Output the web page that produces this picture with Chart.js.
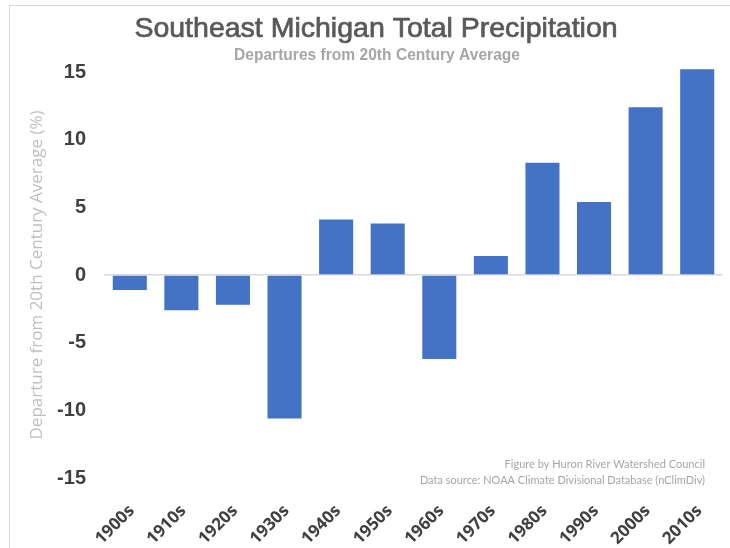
<!DOCTYPE html>
<html>
<head>
<meta charset="utf-8">
<script src="https://cdn.jsdelivr.net/npm/chart.js@4/dist/chart.umd.min.js"></script>
<style>
  html, body { margin: 0; padding: 0; background: #ffffff; }
  #wrap { position: relative; width: 730px; height: 548px; overflow: hidden; }
  #frame { position: absolute; left: 9px; top: 5px; width: 760px; height: 600px; border: 1px solid #d9d9d9; box-sizing: border-box; pointer-events: none; }
  canvas { position: absolute; left: 0; top: 0; }
</style>
</head>
<body>
<div id="wrap">
  <div id="frame"></div>
  <canvas id="c" width="730" height="548"></canvas>
</div>
<script>
const titleText = "Southeast Michigan Total Precipitation";
const subtitleText = "Departures from 20th Century Average";
const yAxisTitle = "Departure from 20th Century Average (%)";
const footnoteLines = ["Figure by Huron River Watershed Council", "Data source: NOAA Climate Divisional Database (nClimDiv)"];
const decades = ["1900s", "1910s", "1920s", "1930s", "1940s", "1950s", "1960s", "1970s", "1980s", "1990s", "2000s", "2010s"];
const departures = [-1.1, -2.6, -2.2, -10.6, 4.1, 3.8, -6.2, 1.4, 8.3, 5.4, 12.4, 15.2];
const yMin = -15;
const yMax = 15;
const yStep = 5;

function fitFont(ctx, text, weight, size, family, maxWidth) {
  ctx.font = weight + ' ' + size + 'px ' + family;
  const w = ctx.measureText(text).width;
  if (w > maxWidth) {
    ctx.font = weight + ' ' + (size * maxWidth / w).toFixed(2) + 'px ' + family;
  }
}

const textPlugin = {
  id: 'textPlugin',
  afterDraw(chart) {
    const ctx = chart.ctx;
    ctx.save();
    ctx.textAlign = 'center';
    ctx.textBaseline = 'middle';
    ctx.fillStyle = '#595959';
    ctx.strokeStyle = '#595959';
    ctx.lineWidth = 0.7;
    ctx.font = '28.5px "Liberation Sans", Arial, sans-serif';
    ctx.fillText(titleText, 376, 29);
    ctx.strokeText(titleText, 376, 29);
    ctx.fillStyle = '#a6a6a6';
    fitFont(ctx, subtitleText, 'bold', 17, '"Liberation Sans Narrow", "Liberation Sans", Arial, sans-serif', 286);
    ctx.fillText(subtitleText, 377, 56);
    ctx.textAlign = 'right';
    ctx.fillStyle = '#a6a6a6';
    ctx.font = '11px Lato, "Open Sans", sans-serif';
    ctx.fillText(footnoteLines[0], 705, 464);
    ctx.fillText(footnoteLines[1], 705, 480);
    ctx.restore();
  }
};

new Chart(document.getElementById('c'), {
  type: 'bar',
  data: {
    labels: decades,
    datasets: [{
      data: departures,
      backgroundColor: '#4472c4',
      borderWidth: 0,
      barPercentage: 0.66,
      categoryPercentage: 1.0,
      clip: false
    }]
  },
  options: {
    responsive: false,
    animation: false,
    layout: { padding: { top: 72, left: 24, right: 7, bottom: 0 } },
    plugins: {
      legend: { display: false },
      tooltip: { enabled: false },
      title: { display: false }
    },
    scales: {
      x: {
        grid: { display: false, drawTicks: false },
        border: { display: false },
        ticks: {
          color: '#404040',
          font: { family: '"Open Sans", "Liberation Sans", sans-serif', size: 17, weight: 'bold' },
          maxRotation: 45,
          minRotation: 45,
          padding: 23,
          labelOffset: 2,
          autoSkip: false
        },
        afterFit(scale) {
          scale.height = 70;
          scale.paddingRight = 0;
          scale.paddingLeft = 0;
        }
      },
      y: {
        min: yMin,
        max: yMax,
        ticks: {
          stepSize: yStep,
          color: '#404040',
          font: { family: '"Liberation Sans", Arial, sans-serif', size: 20, weight: 'bold' },
          padding: 18
        },
        grid: {
          drawTicks: false,
          lineWidth: 1.5,
          color: (c) => (c.tick && c.tick.value === 0 ? '#d9d9d9' : 'rgba(0,0,0,0)')
        },
        border: { display: false },
        title: {
          display: true,
          text: yAxisTitle,
          color: '#bfbfbf',
          font: { family: '"Open Sans", sans-serif', size: 17, weight: 'normal' },
          padding: { top: 3, bottom: 0 }
        },
        afterFit(scale) { scale.width = 80; }
      }
    }
  },
  plugins: [textPlugin]
});
</script>
</body>
</html>
